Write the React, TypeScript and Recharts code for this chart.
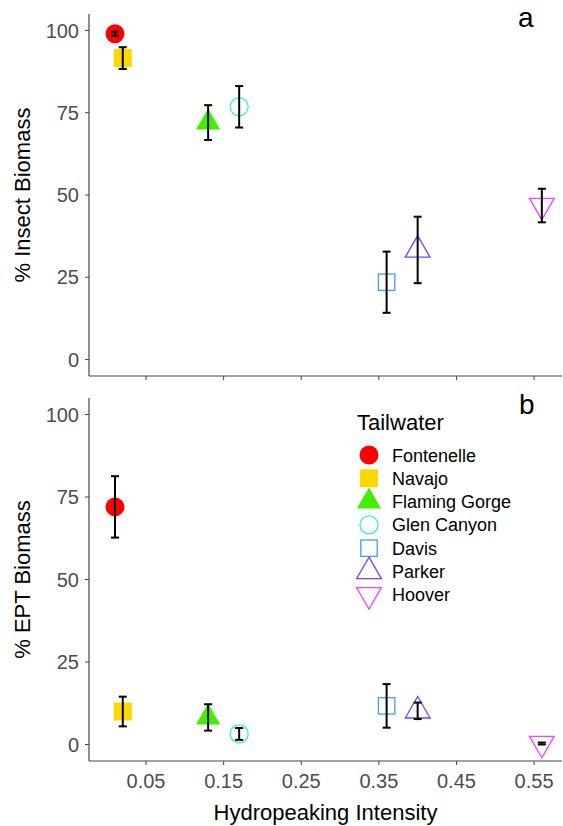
import React from 'react';
import { ScatterChart, Scatter, XAxis, YAxis, ErrorBar, Legend } from 'recharts';

// data
const tailwaters = ['Fontenelle', 'Navajo', 'Flaming Gorge', 'Glen Canyon', 'Davis', 'Parker', 'Hoover'];
const intensity = [0.01, 0.02, 0.13, 0.17, 0.36, 0.4, 0.56];
const insectMean = [99, 91.6, 72, 76.8, 23.5, 33.3, 46.8];
const insectSE = [0.6, 3.3, 5.3, 6.3, 9.3, 10.1, 5.1];
const eptMean = [72, 10, 8.2, 3.2, 11.7, 10.2, 0.3];
const eptSE = [9.3, 4.5, 4, 1.8, 6.6, 2.5, 0.3];
const xTicks = [0.05, 0.15, 0.25, 0.35, 0.45, 0.55];
const yTicks = [0, 25, 50, 75, 100];

const COLORS = ['#FF0000', '#FFD700', '#44EE00', '#3CF5B0', '#3D9BFF', '#7B3FFF', '#FF3FFF'];
const SHAPES = ['circle', 'square', 'triangle', 'circleOpen', 'squareOpen', 'triangleOpen', 'triangleDown'];

const FONT = '"Liberation Sans", Arial, sans-serif';
const AXIS = '#444';
const TICK = '#4D4D4D';
const X_DOMAIN: [number, number] = [-0.0235, 0.586];
const Y_DOMAIN: [number, number] = [-5, 105];

function Marker({ cx, cy, kind, color }: { cx: number; cy: number; kind: string; color: string }) {
  if (cx == null || cy == null) return <g />;
  const sw = 1.3;
  switch (kind) {
    case 'circle':
      return <circle cx={cx} cy={cy} r={9.5} fill={color} />;
    case 'circleOpen':
      return <circle cx={cx} cy={cy} r={9} fill="none" stroke={color} strokeWidth={sw} />;
    case 'square':
      return <rect x={cx - 9} y={cy - 9} width={18} height={18} fill={color} />;
    case 'squareOpen':
      return <rect x={cx - 8.2} y={cy - 8.2} width={16.4} height={16.4} fill="none" stroke={color} strokeWidth={sw} />;
    case 'triangle': {
      const u = 9;
      const pts = `${cx},${cy - 1.555 * u} ${cx + 1.347 * u},${cy + 0.778 * u} ${cx - 1.347 * u},${cy + 0.778 * u}`;
      return <polygon points={pts} fill={color} />;
    }
    case 'triangleOpen': {
      const u = 9.2;
      const pts = `${cx},${cy - 1.555 * u} ${cx + 1.347 * u},${cy + 0.778 * u} ${cx - 1.347 * u},${cy + 0.778 * u}`;
      return <polygon points={pts} fill="none" stroke={color} strokeWidth={sw} />;
    }
    case 'triangleDown': {
      const u = 9.2;
      const pts = `${cx},${cy + 1.555 * u} ${cx + 1.347 * u},${cy - 0.778 * u} ${cx - 1.347 * u},${cy - 0.778 * u}`;
      return <polygon points={pts} fill="none" stroke={color} strokeWidth={sw} />;
    }
    default:
      return <g />;
  }
}

const TailwaterLegend = () => (
  <svg width={210} height={210} style={{ display: 'block', fontFamily: FONT }}>
    <text x={7} y={30} fontSize={22} fill="#000">Tailwater</text>
    {tailwaters.map((name, i) => {
      const cy = 55 + i * 23.3;
      return (
        <g key={name}>
          <Marker cx={19} cy={cy} kind={SHAPES[i]} color={COLORS[i]} />
          <text x={42} y={cy + 6.5} fontSize={18} fill="#000">{name}</text>
        </g>
      );
    })}
  </svg>
);

interface PanelProps {
  means: number[];
  errors: number[];
  yLabel: string;
  height: number;
  top: number;
  bottomAxis: boolean;
  legend?: boolean;
}

const Panel: React.FC<PanelProps> = ({ means, errors, yLabel, height, top, bottomAxis, legend }) => {
  const pts = intensity.map((x, i) => ({ x, y: means[i], err: errors[i], name: tailwaters[i] }));
  return (
    <ScatterChart width={563} height={height} margin={{ top, right: 1, left: 0, bottom: 0 }}>
      <XAxis
        type="number"
        dataKey="x"
        domain={X_DOMAIN}
        ticks={xTicks}
        allowDataOverflow
        height={bottomAxis ? 65 : 14}
        tickSize={4}
        tickMargin={9}
        tickFormatter={bottomAxis ? (v: number) => v.toFixed(2) : () => ''}
        tick={{ fontSize: 20, fill: TICK, fontFamily: FONT }}
        axisLine={{ stroke: AXIS, strokeWidth: 1.2 }}
        tickLine={{ stroke: AXIS }}
        label={
          bottomAxis
            ? { value: 'Hydropeaking Intensity', position: 'insideBottom', offset: 6, style: { fontSize: 22, fill: '#000', fontFamily: FONT } }
            : undefined
        }
      />
      <YAxis
        type="number"
        dataKey="y"
        domain={Y_DOMAIN}
        ticks={yTicks}
        allowDataOverflow
        width={89}
        tickSize={4}
        tickMargin={6}
        tick={{ fontSize: 20, fill: TICK, fontFamily: FONT }}
        axisLine={{ stroke: AXIS, strokeWidth: 1.2 }}
        tickLine={{ stroke: AXIS }}
        label={{ value: yLabel, angle: -90, position: 'center', dx: -22, style: { fontSize: 22, fill: '#000', fontFamily: FONT, textAnchor: 'middle' } }}
      />
      {pts.map((p, i) => (
        <Scatter
          key={p.name}
          name={p.name}
          data={[p]}
          isAnimationActive={false}
          zIndex={500}
          shape={(props: any) => <Marker cx={props.cx} cy={props.cy} kind={SHAPES[i]} color={COLORS[i]} />}
        />
      ))}
      <Scatter name="se" data={pts} isAnimationActive={false} legendType="none" zIndex={900} shape={() => <g />}>
        <ErrorBar dataKey="err" direction="y" width={4} stroke="#000" strokeWidth={2} isAnimationActive={false} zIndex={1000} />
      </Scatter>
      {legend && (
        <Legend
          layout="horizontal"
          verticalAlign="middle"
          align="center"
          content={() => <TailwaterLegend />}
          wrapperStyle={{ left: 350, top: 10, width: 210, height: 210 }}
        />
      )}
    </ScatterChart>
  );
};

export default function App() {
  return (
    <div style={{ position: 'absolute', left: 0, top: 0, width: 563, height: 826, background: '#fff', fontFamily: FONT }}>
      <div style={{ position: 'absolute', left: 0, top: 0 }}>
        <Panel means={insectMean} errors={insectSE} yLabel="% Insect Biomass" height={390} top={14} bottomAxis={false} />
      </div>
      <div style={{ position: 'absolute', left: 0, top: 390 }}>
        <Panel means={eptMean} errors={eptSE} yLabel="% EPT Biomass" height={436} top={8} bottomAxis legend />
      </div>
      <div style={{ position: 'absolute', left: 518, top: 0, fontSize: 28, lineHeight: '36px' }}>a</div>
      <div style={{ position: 'absolute', left: 519, top: 387, fontSize: 28, lineHeight: '36px' }}>b</div>
    </div>
  );
}
